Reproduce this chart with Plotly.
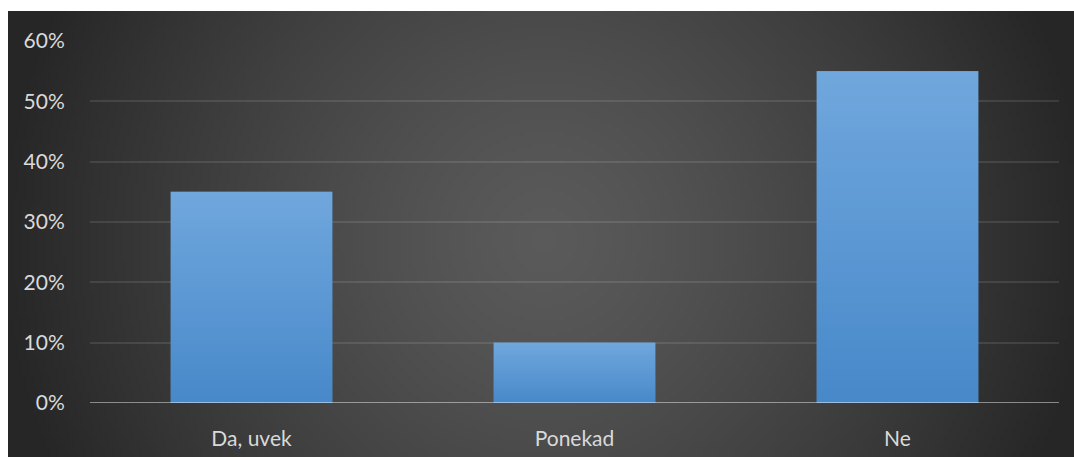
import base64, struct, zlib
import plotly.graph_objects as go

# ---- data ----
categories = ["Da, uvek", "Ponekad", "Ne"]
values = [0.35, 0.10, 0.55]
y_ticks = [0, 0.1, 0.2, 0.3, 0.4, 0.5, 0.6]
y_tick_labels = ["0%", "10%", "20%", "30%", "40%", "50%", "60%"]

W, H = 1074, 457
ML, MR, MT, MB = 90, 15, 41, 54
PW, PH = W - ML - MR, H - MT - MB


def png_uri(w, h, pixel):
    raw = bytearray()
    for j in range(h):
        raw.append(0)
        for i in range(w):
            raw.extend(pixel(i, j))
    def chunk(t, d):
        c = struct.pack(">I", len(d)) + t + d
        return c + struct.pack(">I", zlib.crc32(t + d) & 0xffffffff)
    data = b"\x89PNG\r\n\x1a\n" + chunk(b"IHDR", struct.pack(">IIBBBBB", w, h, 8, 2, 0, 0, 0)) \
        + chunk(b"IDAT", zlib.compress(bytes(raw), 9)) + chunk(b"IEND", b"")
    return "data:image/png;base64," + base64.b64encode(data).decode()


# background radial gradient (quarter resolution, stretched)
bw, bh = 267, 112
def bg_px(i, j):
    x = 8 + (i + 0.5) * (W - 8) / bw
    y = 11 + (j + 0.5) * (H - 11) / bh
    r = ((x - 545) ** 2 + (y - 240) ** 2) ** 0.5 / 545
    t = min(1.0, r) ** 1.3
    v = int(round(90 - t * (90 - 38)))
    return (v, v, v)
bg_uri = png_uri(bw, bh, bg_px)

# vertical gradient for bars
top_c, bot_c = (0x70, 0xa7, 0xdd), (0x48, 0x89, 0xca)
gh = 64
def bar_px(i, j):
    t = j / (gh - 1)
    return tuple(int(round(top_c[k] + (bot_c[k] - top_c[k]) * t)) for k in range(3))
bar_uri = png_uri(1, gh, bar_px)

fig = go.Figure()
fig.add_trace(go.Bar(x=categories, y=values, marker=dict(color="#5b9bd5", line=dict(width=0)),
                     hoverinfo="x+y"))

images = [dict(source=bg_uri, xref="paper", yref="paper",
               x=(8 - ML) / PW, y=1 + (MT - 11) / PH,
               sizex=(W - 8) / PW, sizey=(H - 11) / PH,
               xanchor="left", yanchor="top", sizing="stretch", layer="below")]
for idx, v in enumerate(values):
    images.append(dict(source=bar_uri, xref="x", yref="y", x=idx - 0.25, y=v,
                       sizex=0.5, sizey=v, xanchor="left", yanchor="top",
                       sizing="stretch", layer="above"))

fig.update_layout(
    width=W, height=H,
    margin=dict(l=ML, r=MR, t=MT, b=MB, autoexpand=False),
    paper_bgcolor="white",
    plot_bgcolor="rgba(0,0,0,0)",
    bargap=0.5,
    showlegend=False,
    font=dict(family="Lato, Carlito, sans-serif", size=21, color="#d9d9d9"),
    images=images,
    xaxis=dict(showgrid=False, showline=False, ticks="outside", ticklen=17,
               tickcolor="rgba(0,0,0,0)", tickfont=dict(size=21, color="#d9d9d9"),
               automargin=False, fixedrange=True),
    yaxis=dict(range=[0, 0.6], tickvals=y_ticks, ticktext=y_tick_labels,
               showgrid=True, gridcolor="rgba(255,255,255,0.10)", gridwidth=2,
               zeroline=False, showline=False, ticks="outside", ticklen=20,
               tickcolor="rgba(0,0,0,0)", tickfont=dict(size=21, color="#d9d9d9"),
               automargin=False, fixedrange=True),
    shapes=[dict(type="line", xref="paper", yref="y", x0=0, x1=1, y0=0, y1=0,
                 line=dict(color="rgba(255,255,255,0.45)", width=2), layer="above")],
)

fig.write_html("out.html")
